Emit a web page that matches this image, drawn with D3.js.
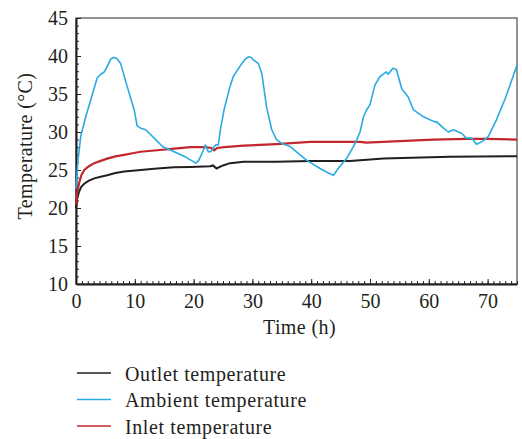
<!DOCTYPE html>
<html>
<head>
<meta charset="utf-8">
<script src="https://cdn.jsdelivr.net/npm/d3@7"></script>
<style>
  html, body { margin: 0; padding: 0; background: #fff; }
  svg text { font-family: "Liberation Serif", "DejaVu Serif", serif; fill: #231f20; }
</style>
</head>
<body>
<svg id="chart" width="522" height="439"></svg>
<script>
// time (h) and temperature (°C)
const ambientTime = [0, 0.3, 0.8, 1.65, 2.5, 3.6, 4.2, 4.8, 5.3, 5.9, 6.4, 6.9, 7.6, 8.7, 9.9, 10.4, 11.0, 11.85, 13.3, 14.7, 16.7, 18.65, 20.4, 20.9, 21.6, 22.0, 22.5, 22.9, 23.4, 23.8, 24.2, 24.6, 25.2, 25.6, 26.2, 26.75, 27.5, 28.2, 28.8, 29.3, 29.8, 30.15, 31.0, 31.6, 32.0, 32.4, 33.3, 34.1, 35.0, 36.4, 37.8, 39.2, 41.5, 42.9, 43.8, 44.6, 46.0, 47.2, 47.7, 48.3, 48.9, 49.4, 50.0, 50.85, 51.7, 52.8, 53.1, 53.9, 54.5, 55.4, 56.5, 57.4, 59.1, 60.8, 61.4, 62.5, 63.3, 64.2, 65.6, 66.4, 67.3, 68.1, 69.0, 70.1, 71.5, 73.0, 74.1, 75.0];
const ambientTemp = [22.5, 26, 29.4, 32.0, 34.2, 37.1, 37.6, 37.9, 38.6, 39.6, 39.8, 39.7, 39.0, 36.0, 32.9, 30.8, 30.5, 30.3, 29.2, 28.1, 27.4, 26.7, 25.9, 26.3, 27.5, 28.3, 27.4, 27.4, 28.0, 28.3, 28.3, 30.5, 33.0, 34.2, 36.0, 37.3, 38.2, 39.0, 39.6, 39.9, 39.8, 39.5, 39.0, 37.7, 35.5, 33.3, 30.3, 29.0, 28.5, 28.1, 27.2, 26.3, 25.2, 24.6, 24.3, 25.2, 26.5, 28.1, 28.9, 30.0, 32.0, 32.9, 33.6, 36.2, 37.3, 37.9, 37.6, 38.4, 38.2, 35.7, 34.6, 32.9, 32.0, 31.4, 31.3, 30.5, 30.0, 30.3, 29.8, 29.2, 29.2, 28.4, 28.7, 29.4, 31.6, 34.4, 36.8, 38.8];

const inletTime = [0, 0.2, 0.5, 0.9, 1.4, 2.2, 3.1, 4.2, 5.3, 6.7, 8.2, 9.6, 11.0, 13.8, 16.7, 19.5, 22.0, 23.0, 23.5, 24.0, 25.2, 28.5, 34.1, 39.8, 44, 48.3, 49.4, 55, 60.8, 66.4, 70, 75];
const inletTemp = [20.5, 22.0, 23.2, 24.3, 25.0, 25.5, 25.9, 26.2, 26.5, 26.8, 27.0, 27.2, 27.4, 27.6, 27.8, 28.0, 28.0, 27.9, 27.6, 27.9, 28.0, 28.2, 28.4, 28.7, 28.7, 28.7, 28.6, 28.8, 29.0, 29.1, 29.1, 29.0];

const outletTime = [0, 0.2, 0.5, 0.9, 1.4, 2.2, 3.1, 4.2, 5.3, 6.7, 8.2, 11.0, 13.8, 16.7, 19.5, 22.8, 23.3, 23.9, 25.0, 26.2, 28.5, 34.1, 39.8, 46.6, 52.3, 63.6, 75];
const outletTemp = [20.0, 21.2, 22.1, 22.8, 23.2, 23.6, 23.9, 24.1, 24.3, 24.6, 24.8, 25.0, 25.2, 25.35, 25.4, 25.5, 25.6, 25.2, 25.6, 25.9, 26.1, 26.1, 26.2, 26.2, 26.5, 26.75, 26.8];

const xTicks = [0, 10, 20, 30, 40, 50, 60, 70];
const yTicks = [10, 15, 20, 25, 30, 35, 40, 45];

const seriesNames = ['Outlet temperature', 'Ambient temperature', 'Inlet temperature'];
const seriesColors = ['#231f20', '#29aae1', '#c1272d'];

const svg = d3.select('#chart');
const margin = { top: 18, right: 5, bottom: 155, left: 76 };
const width = 522 - margin.left - margin.right;
const height = 439 - margin.top - margin.bottom;
const fontSize = '20px';

const g = svg.append('g').attr('transform', `translate(${margin.left},${margin.top})`);

const x = d3.scaleLinear().domain([0, 75]).range([0, width]);
const y = d3.scaleLinear().domain([10, 45]).range([height, 0]);

// frame
g.append('rect')
  .attr('width', width).attr('height', height)
  .attr('fill', 'none').attr('stroke', '#4d4d4d').attr('stroke-width', 1.2);

// minor ticks (inward)
g.append('g')
  .attr('transform', `translate(0,${height})`)
  .call(d3.axisTop(x).tickValues(d3.range(0, 76, 1)).tickSize(3).tickFormat(''))
  .call(a => a.select('.domain').remove());
g.append('g')
  .call(d3.axisRight(y).tickValues(d3.range(10, 46, 1)).tickSize(3).tickFormat(''))
  .call(a => a.select('.domain').remove());

// major axes
const xAxis = g.append('g')
  .attr('transform', `translate(0,${height})`)
  .call(d3.axisBottom(x).tickValues(xTicks).tickSize(0).tickPadding(10));
xAxis.select('.domain').attr('stroke', '#231f20').attr('stroke-width', 2);

const yAxis = g.append('g')
  .call(d3.axisLeft(y).tickValues(yTicks).tickSize(0).tickPadding(8));
yAxis.select('.domain').attr('stroke', '#231f20').attr('stroke-width', 2);

g.append('g')
  .attr('transform', `translate(0,${height})`)
  .call(d3.axisTop(x).tickValues(xTicks).tickSize(5).tickFormat(''))
  .call(a => a.select('.domain').remove());
g.append('g')
  .call(d3.axisRight(y).tickValues(yTicks).tickSize(5).tickFormat(''))
  .call(a => a.select('.domain').remove());

g.selectAll('.tick line').attr('stroke', '#231f20');
g.selectAll('.tick text')
  .style('font-family', '"Liberation Serif", serif')
  .style('font-size', fontSize)
  .attr('fill', '#231f20');

// axis titles
g.append('text')
  .attr('x', width / 2 + 3)
  .attr('y', height + 50)
  .attr('text-anchor', 'middle')
  .style('font-size', fontSize)
  .style('letter-spacing', '0.4px')
  .text('Time (h)');

g.append('text')
  .attr('transform', 'rotate(-90)')
  .attr('x', -height / 2 + 5)
  .attr('y', -44)
  .attr('text-anchor', 'middle')
  .style('font-size', fontSize)
  .style('letter-spacing', '0.4px')
  .text('Temperature (°C)');

// lines
const line = d3.line()
  .x(d => x(d[0]))
  .y(d => y(d[1]));

const zip = (a, b) => a.map((v, i) => [v, b[i]]);

const plot = g.append('g');
plot.append('path')
  .datum(zip(outletTime, outletTemp))
  .attr('fill', 'none').attr('stroke', seriesColors[0]).attr('stroke-width', 2)
  .attr('d', line);
plot.append('path')
  .datum(zip(inletTime, inletTemp))
  .attr('fill', 'none').attr('stroke', seriesColors[2]).attr('stroke-width', 2.2)
  .attr('d', line);
plot.append('path')
  .datum(zip(ambientTime, ambientTemp))
  .attr('fill', 'none').attr('stroke', seriesColors[1]).attr('stroke-width', 1.6)
  .attr('stroke-linejoin', 'round')
  .attr('d', line);

// legend
const legend = svg.append('g').attr('transform', 'translate(77,373)');
seriesNames.forEach((name, i) => {
  const row = legend.append('g').attr('transform', `translate(0,${i * 26.5})`);
  row.append('line')
    .attr('x1', 0).attr('x2', 34)
    .attr('stroke', seriesColors[i]).attr('stroke-width', 1.6);
  row.append('text')
    .attr('x', 48).attr('y', 7.5)
    .style('font-size', fontSize)
    .style('letter-spacing', '0.6px')
    .text(name);
});
</script>
</body>
</html>
